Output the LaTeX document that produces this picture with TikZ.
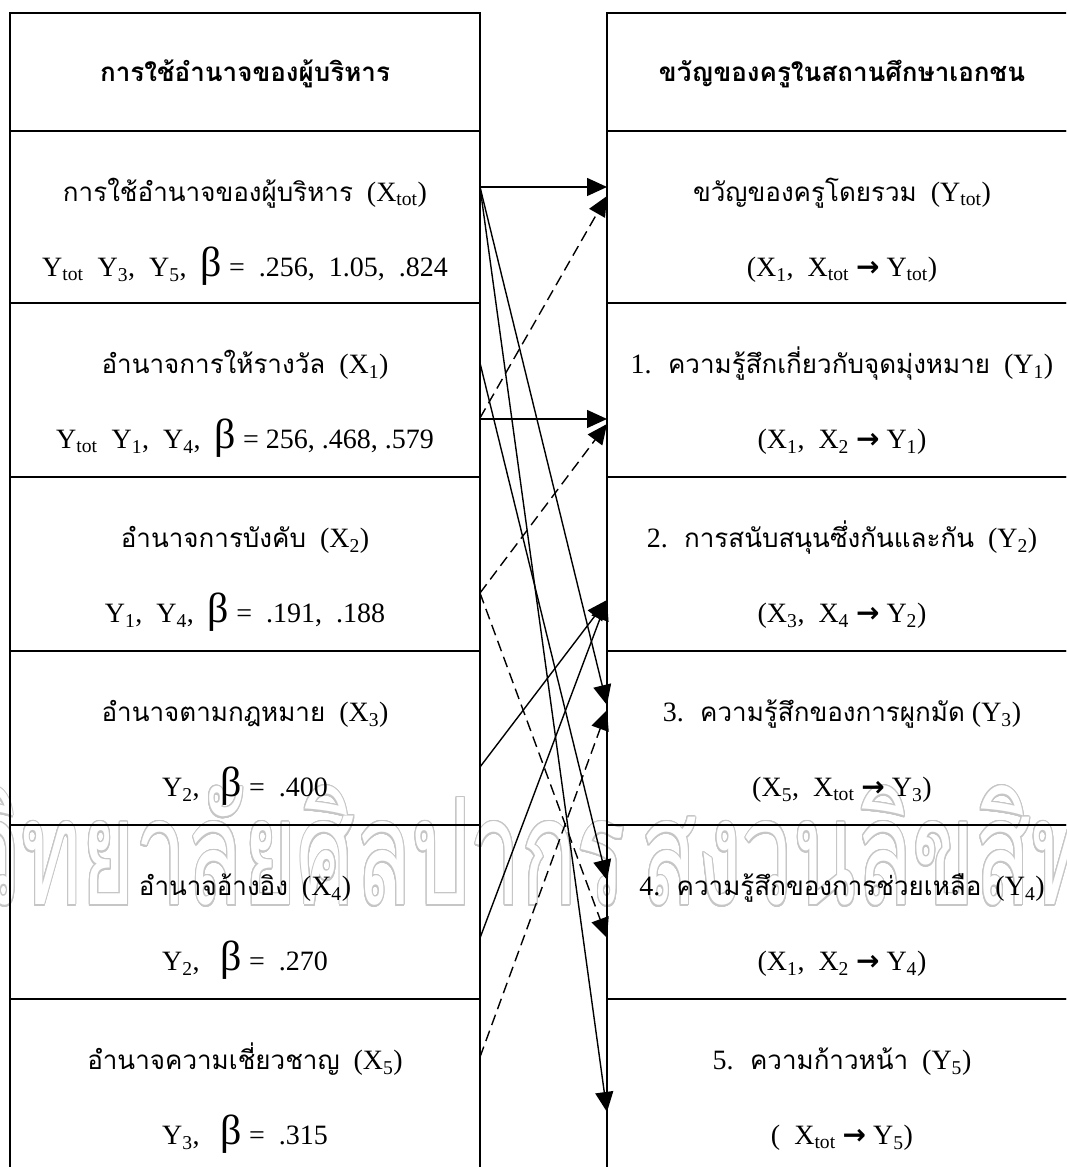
\documentclass[tikz,border=0pt]{standalone}
\usepackage{fontspec}
\usepackage[copies]{contour}
\usetikzlibrary{positioning,arrows.meta}
\setmainfont{Liberation Serif}
\newfontfamily\thaifont[Script=Thai]{Loma}
\newfontfamily\arrowfont{DejaVu Sans}
\contourlength{1.5pt}
\contournumber{24}

\newcommand{\thaitxt}[1]{{\fontsize{26}{30}\selectfont\thaifont #1}}
\newcommand{\tot}{\textsubscript{tot}}
\newcommand{\subs}[1]{\textsubscript{#1}}
\newcommand{\bet}{{\fontsize{42}{42}\selectfont β}}
\newcommand{\goes}{\ {\arrowfont\bfseries →}\ }

\tikzset{
  colbox/.style={draw, line width=1.6pt, minimum width=470pt, minimum height=174pt,
    inner sep=0pt, outer sep=0pt},
  headbox/.style={colbox, minimum height=118pt},
  rowtxt/.style={anchor=base, inner sep=0pt, font=\fontsize{28}{30}\selectfont},
  headtxt/.style={rowtxt, font=\fontsize{26}{30}\selectfont\thaifont\bfseries},
  link/.style={line width=1.4pt, -{Triangle[length=20pt,width=18pt]}},
  dashlink/.style={link, dash pattern=on 11pt off 6pt},
  wmtxt/.style={inner sep=0pt, text=white, xscale=0.62, transform shape,
    font=\fontsize{148}{148}\thaifont},
}

\begin{document}
\begin{tikzpicture}[x=1pt,y=1pt]
  \clip (0,0) rectangle (1066,1167);
  % watermark, behind everything
  \node[wmtxt, anchor=base east] (wm-a) at (626,262) {\contour{gray!45}{มหาวิทยาลัยศิลปากร}};
  \node[wmtxt, anchor=base west] (wm-b) at (641,262) {\contour{gray!45}{สงวนลิขสิทธิ์}};

  % left column
  \node[headbox] (lhead) at (245,1095) {};
  \node[colbox, minimum height=172pt, below=0pt of lhead] (xtot) {};
  \node[colbox, below=0pt of xtot] (x1) {};
  \node[colbox, below=0pt of x1] (x2) {};
  \node[colbox, below=0pt of x2] (x3) {};
  \node[colbox, below=0pt of x3] (x4) {};
  \node[colbox, minimum height=180pt, below=0pt of x4] (x5) {};

  % right column
  \node[headbox] (rhead) at (842,1095) {};
  \node[colbox, minimum height=172pt, below=0pt of rhead] (ytot) {};
  \node[colbox, below=0pt of ytot] (y1) {};
  \node[colbox, below=0pt of y1] (y2) {};
  \node[colbox, below=0pt of y2] (y3) {};
  \node[colbox, below=0pt of y3] (y4) {};
  \node[colbox, minimum height=180pt, below=0pt of y4] (y5) {};

  \node[headtxt] (lhead-t) at ([yshift=-69pt]lhead.north) {การใช้อำนาจของผู้บริหาร};
  \node[headtxt] (rhead-t) at ([yshift=-69pt]rhead.north) {ขวัญของครูในสถานศึกษาเอกชน};

  \foreach \r/\ta/\tb in {
    xtot/{\thaitxt{การใช้อำนาจของผู้บริหาร}~ (X\tot)}/{Y\tot~ Y\subs{3},~ Y\subs{5},~ \bet{} =~ .256,~ 1.05,~ .824},
    x1/{\thaitxt{อำนาจการให้รางวัล}~ (X\subs{1})}/{Y\tot~ Y\subs{1},~ Y\subs{4},~ \bet{} = 256, .468, .579},
    x2/{\thaitxt{อำนาจการบังคับ}~ (X\subs{2})}/{Y\subs{1},~ Y\subs{4},~ \bet{} =~ .191,~ .188},
    x3/{\thaitxt{อำนาจตามกฎหมาย}~ (X\subs{3})}/{Y\subs{2},~~ \bet{} =~ .400},
    x4/{\thaitxt{อำนาจอ้างอิง}~ (X\subs{4})}/{Y\subs{2},~~ \bet{} =~ .270},
    x5/{\thaitxt{อำนาจความเชี่ยวชาญ}~ (X\subs{5})}/{Y\subs{3},~~ \bet{} =~ .315},
    ytot/{\thaitxt{ขวัญของครูโดยรวม}~ (Y\tot)}/{(X\subs{1},~ X\tot\goes Y\tot)},
    y1/{1.~ \thaitxt{ความรู้สึกเกี่ยวกับจุดมุ่งหมาย}~ (Y\subs{1})}/{(X\subs{1},~ X\subs{2}\goes Y\subs{1})},
    y2/{2.~ \thaitxt{การสนับสนุนซึ่งกันและกัน}~ (Y\subs{2})}/{(X\subs{3},~ X\subs{4}\goes Y\subs{2})},
    y3/{3.~ \thaitxt{ความรู้สึกของการผูกมัด} (Y\subs{3})}/{(X\subs{5},~ X\tot\goes Y\subs{3})},
    y4/{4.~ \thaitxt{ความรู้สึกของการช่วยเหลือ}~ (Y\subs{4})}/{(X\subs{1},~ X\subs{2}\goes Y\subs{4})},
    y5/{5.~ \thaitxt{ความก้าวหน้า}~ (Y\subs{5})}/{(~ X\tot\goes Y\subs{5})}}{
    \node[rowtxt] (\r-a) at ([yshift=-71pt]\r.north) {\ta};
    \node[rowtxt] (\r-b) at ([yshift=-146pt]\r.north) {\tb};
  }

  % paths of influence
  \foreach \src/\fs/\dst/\ds/\kind in {
    xtot/56/ytot/56/link, xtot/56/y3/54/link, xtot/56/y5/113/link,
    x1/115/ytot/65/dashlink, x1/116/y1/116/link, x1/60/y4/55/link,
    x2/116/y1/121/dashlink, x2/116/y4/113/dashlink,
    x3/116/y2/123/link, x4/113/y2/123/link,
    x5/58/y3/59/dashlink}{
    \draw[\kind] ([yshift=-\fs pt]\src.north east) -- ([yshift=-\ds pt]\dst.north west);
  }
\end{tikzpicture}
\end{document}
